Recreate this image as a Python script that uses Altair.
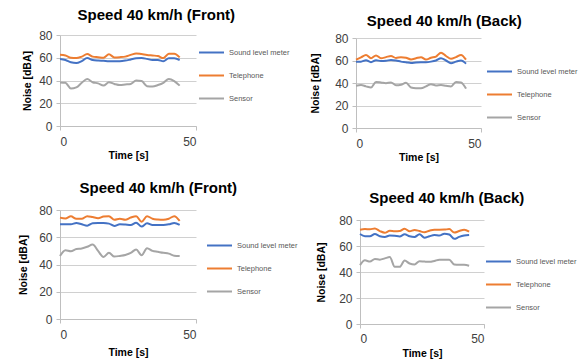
import altair as alt
import pandas as pd

series = ["Sound level meter", "Telephone", "Sensor"]
colors = ["#4472C4", "#ED7D31", "#A5A5A5"]
time_s = [0, 2, 4, 6, 8, 10, 12, 14, 16, 18, 20, 22, 24, 26, 28, 30, 32, 34, 36, 38, 40, 42, 44]

# Panel 1: Speed 40 km/h (Front), top
slm1 = [58.8, 58, 56, 55.3, 57, 59.7, 58, 57.5, 57.3, 57, 57, 57, 57.5, 58.5, 59.5, 59.7, 59, 58, 58, 57, 59.5, 59.5, 58]
tel1 = [62.6, 62, 60, 59.7, 61, 63.2, 61, 60.5, 60, 63, 60.3, 60.5, 61, 62.5, 63.8, 63.2, 62.5, 62, 61.5, 59.7, 63.5, 63.5, 60.3]
sen1 = [38.3, 38, 33, 34, 38, 41.3, 38.5, 37.5, 35.5, 38.5, 37, 36, 36.5, 37, 40, 39.5, 35, 34.7, 36, 38, 41.3, 39.5, 35.5]

# Panel 2: Speed 40 km/h (Back), top
slm2 = [59, 59, 60.3, 58.5, 60.3, 59.5, 59.7, 60.5, 60, 59, 58.5, 57.8, 58.3, 58.5, 58.5, 59, 60, 62, 60, 57.6, 59, 60, 57.2]
tel2 = [60.7, 62.8, 65, 62, 64.5, 62, 63, 64, 62.2, 63, 62.5, 61, 62, 63, 60.8, 62.5, 63.5, 67, 64, 61.5, 63, 65, 60.8]
sen2 = [37.6, 38.2, 37, 36, 41, 40.5, 39.8, 40.5, 38, 38.5, 40.2, 36, 35.3, 35.3, 37, 39, 37.8, 38.2, 37.5, 37, 41, 40.5, 35]

# Panel 3: Speed 40 km/h (Front), bottom
slm3 = [69.5, 69.5, 69.5, 70.5, 69.5, 68.5, 70.3, 70.5, 70.5, 70, 68.3, 69.5, 69.3, 69, 70.7, 67.8, 70.2, 69, 69, 69, 69.5, 70.5, 69]
tel3 = [74.4, 73.8, 75.4, 73.5, 73.5, 75.5, 74.8, 74, 75.2, 75.5, 72.8, 73.5, 72.8, 74.5, 75.5, 71.3, 75.5, 73.6, 73, 72.8, 73.6, 75.5, 72]
sen3 = [46.2, 50.5, 49.8, 51.4, 51.8, 53, 54.7, 50, 45.5, 48.6, 45.8, 46.3, 47, 48.5, 51, 46.8, 52, 50, 49.3, 48.6, 48, 46.5, 46.2]

# Panel 4: Speed 40 km/h (Back), bottom
slm4 = [69.2, 67.5, 67.5, 69.2, 67.5, 67, 68, 67.8, 67.4, 69, 67.5, 67, 69, 66.3, 67.5, 68.4, 68, 69.5, 68.8, 65.5, 67, 68, 68.4]
tel4 = [72.5, 73, 72.8, 73.5, 71.5, 70.2, 71.7, 71.3, 71.5, 73.3, 71.3, 72.4, 71.5, 70.5, 71.8, 72.5, 72.5, 72.6, 73, 70.3, 71.5, 72.5, 71]
sen4 = [45.3, 49, 48, 50, 49.5, 50.5, 51.5, 44, 44, 48.8, 46.5, 45.8, 48.3, 48, 47.8, 48.5, 49.5, 49.5, 49.5, 45.8, 45.5, 45.5, 44.8]

FONT = "Liberation Sans"


def panel(title, slm, tel, sen, w, h, toff, ytpad, lx, ly, xlpad=6, xtpad=3,
          tdy=0, top_gap=0):
    df = pd.DataFrame({
        "Time": time_s * 3,
        "Noise": slm + tel + sen,
        "Series": [s for s in series for _ in time_s],
    })
    yscale = alt.Scale(domain=[0, 80], nice=False)
    if top_gap:
        yscale = alt.Scale(domain=[0, 80], nice=False, range=[h, top_gap])
    tparams = dict(fontSize=15, fontWeight="bold", font=FONT, color="#000000",
                   offset=toff, anchor="middle", frame="bounds")
    if tdy:
        tparams["dy"] = tdy
    return alt.Chart(
        df,
        title=alt.TitleParams(title, **tparams),
    ).mark_line(strokeWidth=2, interpolate="monotone").encode(
        x=alt.X("Time:Q", scale=alt.Scale(domain=[0, 50], nice=False),
                axis=alt.Axis(values=[0, 50], title="Time [s]", grid=False,
                              domainColor="#bfbfbf", tickColor="#bfbfbf", tickSize=4,
                              labelFont=FONT, labelFontSize=12, labelColor="#404040",
                              labelPadding=xlpad, titleFont=FONT, titleFontSize=10.5,
                              titleFontWeight="bold", titleColor="#000000",
                              titlePadding=xtpad)),
        y=alt.Y("Noise:Q", scale=yscale,
                axis=alt.Axis(values=[0, 20, 40, 60, 80], title="Noise [dBA]",
                              gridColor="#d0d0d0", domainColor="#bfbfbf",
                              tickColor="#bfbfbf", tickSize=4, labelFont=FONT,
                              labelFontSize=12, labelColor="#404040", labelPadding=4,
                              titleFont=FONT, titleFontSize=10.5, titleFontWeight="bold",
                              titleColor="#000000", titlePadding=ytpad)),
        color=alt.Color("Series:N", sort=series,
                        scale=alt.Scale(domain=series, range=colors),
                        legend=alt.Legend(orient="none", legendX=lx, legendY=ly, title=None,
                                          symbolType="stroke", symbolSize=625,
                                          symbolStrokeWidth=2, labelFont=FONT,
                                          labelFontSize=7.5, labelColor="#595959",
                                          rowPadding=5, labelOffset=4)),
    ).properties(width=w, height=h)


p1 = panel("Speed 40 km/h (Front)", slm1, tel1, sen1, 136, 91, 6, 6, 138, 4)
p2 = panel("Speed 40 km/h (Back)", slm2, tel2, sen2, 125, 93, 3, 14, 130, 23, top_gap=3)
p3 = panel("Speed 40 km/h (Front)", slm3, tel3, sen3, 136, 109, 8, 10, 146, 22, 6, 7)
p4 = panel("Speed 40 km/h (Back)", slm4, tel4, sen4, 124, 114, 8, 12, 125, 38, 5, 4,
           tdy=4, top_gap=10)

row1 = alt.hconcat(p1, p2, spacing=20).resolve_scale(color="independent").resolve_legend(color="independent")
row2 = alt.hconcat(p3, p4, spacing=18).resolve_scale(color="independent").resolve_legend(color="independent")

chart = alt.vconcat(row1, row2, spacing=18).resolve_scale(
    color="independent").resolve_legend(color="independent").properties(
    padding={"left": 10, "top": 0, "right": 0, "bottom": 0}
).configure_view(stroke=None)

chart.save("out.html", embed_options={"renderer": "svg", "actions": False})
